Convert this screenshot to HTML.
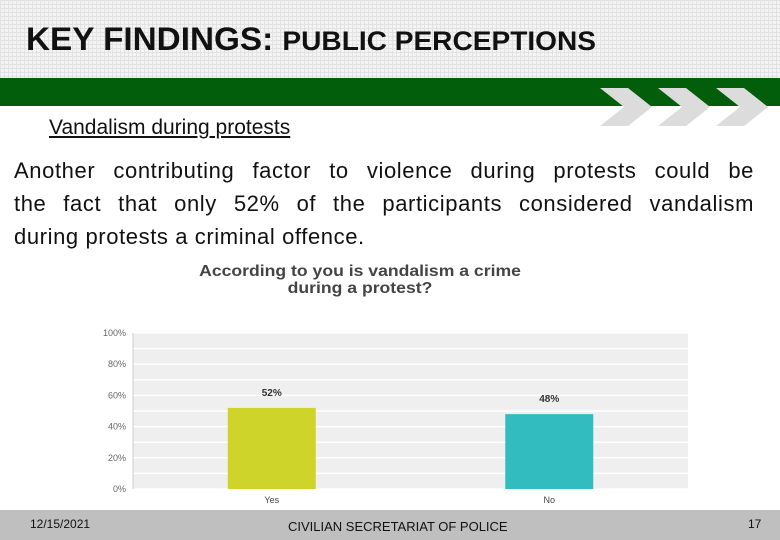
<!DOCTYPE html>
<html><head><meta charset="utf-8"><style>
body{margin:0;width:780px;height:540px;overflow:hidden;background:#fff;font-family:"Liberation Sans",sans-serif;position:relative}
.hdr{position:absolute;left:0;top:0;width:780px;height:78px;background-color:#f4f4f4;background-image:linear-gradient(#e2e2e2 1px,transparent 1px),linear-gradient(90deg,#e2e2e2 1px,transparent 1px);background-size:4px 4px}
.title{position:absolute;left:26px;top:21px;font-size:32px;font-weight:bold;color:#111;transform:scaleX(1.04);transform-origin:left;white-space:nowrap}
.green{position:absolute;left:0;top:78px;width:780px;height:28px;background:#035e0b}
.sub{position:absolute;left:49px;top:116px;font-size:21px;text-decoration:underline;color:#111}
.para{position:absolute;left:14px;top:154px;width:740px;font-size:22px;line-height:33px;color:#111;letter-spacing:0.6px}
.para div{text-align:justify;text-align-last:justify;white-space:nowrap}
.para div:last-child{text-align-last:left}
.ct{position:absolute;left:100px;top:263px;width:520px;text-align:center;font-size:16px;font-weight:bold;color:#444;line-height:17px;transform:scaleX(1.1);transform-origin:center}
.foot{position:absolute;left:0;top:510px;width:780px;height:30px;background:#bfbfbf}
</style></head><body>
<div class="hdr"><div class="title">KEY FINDINGS: <span style="font-size:27px">PUBLIC PERCEPTIONS</span></div></div>
<div class="green"></div>
<svg style="position:absolute;left:598px;top:86px" width="182" height="42">
<polygon points="2,2 30,2 54,21 30,40 2,40 26,21" fill="#dcdcdc"/>
<polygon points="60,2 88,2 112,21 88,40 60,40 84,21" fill="#dcdcdc"/>
<polygon points="118,2 146,2 170,21 146,40 118,40 142,21" fill="#dcdcdc"/>
</svg>
<div class="sub">Vandalism during protests</div>
<div class="para"><div>Another contributing factor to violence during protests could be</div><div>the fact that only 52% of the participants considered vandalism</div><div>during protests a criminal offence.</div></div>
<div class="ct">According to you is vandalism a crime<br>during a protest?</div>
<svg id="chart" style="position:absolute;left:0;top:0" width="780" height="540"></svg>
<div class="foot">
<div style="position:absolute;left:30px;top:7px;font-size:12px;color:#111">12/15/2021</div>
<div style="position:absolute;left:288px;top:9px;font-size:13px;color:#111">CIVILIAN SECRETARIAT OF POLICE</div>
<div style="position:absolute;left:748px;top:7px;font-size:12px;color:#111">17</div>
</div>
<script>
const categories=["Yes","No"];
const values=[52,48];
const ticks=[0,20,40,60,80,100];
const colors=["#cfd42a","#33bcbf"];
const svg=document.getElementById('chart');const NS="http://www.w3.org/2000/svg";
const X0=133,X1=688,Y0=489,Y1=333;
const y=v=>Y0-(v/100)*(Y0-Y1);
const bw=(X1-X0)/categories.length;
const x=i=>X0+bw*i+bw/2;
function mk(t,a){const e=document.createElementNS(NS,t);for(const k in a)e.setAttribute(k,a[k]);svg.appendChild(e);return e;}
const bg=mk('rect',{x:X0,y:Y1,width:X1-X0,height:Y0-Y1,fill:'#efefef'});


for(let v=0;v<=100;v+=10){const l=mk('line',{x1:X0,x2:X1,y1:y(v),y2:y(v),stroke:'#fff','stroke-width':1.5});

}
const ax=mk('line',{x1:X0,x2:X0,y1:Y1,y2:Y0,stroke:'#ccc'});


ticks.forEach(t=>{const e=mk('text',{x:126,y:y(t)+3,'text-anchor':'end','font-size':9,fill:'#666','font-family':'Liberation Sans'});e.textContent=t+'%';

});
categories.forEach((c,i)=>{
const r=mk('rect',{x:x(i)-44,y:y(values[i]),width:88,height:Y0-y(values[i]),fill:colors[i]});


const t=mk('text',{x:x(i),y:y(values[i])-12,'text-anchor':'middle','font-size':10,'font-weight':'bold',fill:'#333','font-family':'Liberation Sans'});t.textContent=values[i]+'%';


const l=mk('text',{x:x(i),y:503,'text-anchor':'middle','font-size':9,fill:'#444','font-family':'Liberation Sans'});l.textContent=c;


});
</script>
</body></html>
